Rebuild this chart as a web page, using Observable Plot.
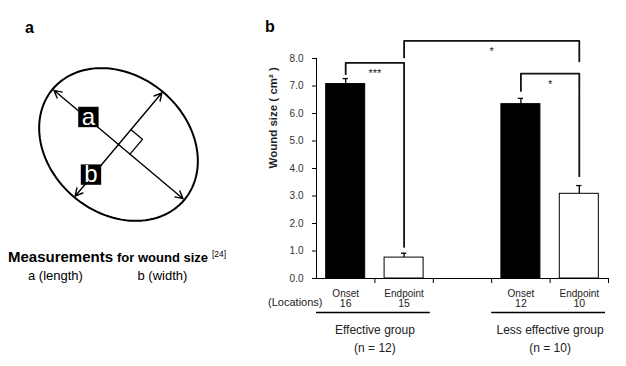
<!DOCTYPE html>
<html><head><meta charset="utf-8">
<script src="https://cdn.jsdelivr.net/npm/d3@7"></script>
<script src="https://cdn.jsdelivr.net/npm/@observablehq/plot@0.6"></script>
<style>
body{margin:0;background:#fff;}
#wrap{position:relative;width:626px;height:366px;overflow:hidden;font-family:"Liberation Sans",Arial,sans-serif;}
#pa,#pb{position:absolute;top:0;}
.t{position:absolute;white-space:nowrap;color:#000;line-height:1;}
</style></head><body>
<div id="wrap">
  <div id="pa" style="left:0"></div>
  <div id="pb" style="left:260px"></div>
  <div class="t" style="left:25px;top:20px;font-weight:bold;font-size:16px">a</div>
  <div class="t" style="left:265px;top:19px;font-weight:bold;font-size:16px">b</div>
  <div class="t" style="left:8px;top:249px;font-weight:bold;font-size:15px">Measurements</div>
  <div class="t" style="left:117px;top:250.7px;font-weight:bold;font-size:13px">for wound size</div>
  <div class="t" style="left:212px;top:250px;font-size:8.5px">[24]</div>
  <div class="t" style="left:28px;top:269px;font-size:13px">a (length)</div>
  <div class="t" style="left:137.5px;top:269px;font-size:13px">b (width)</div>
</div>
<script>
// ---------- Panel b data ----------
const groups = ["Effective group", "Less effective group"];
const groupN = [12, 10];
const phases = ["Onset", "Endpoint"];
const barGroupIndex = [0, 0, 1, 1];
const barPhaseIndex = [0, 1, 0, 1];
const meanSize = [7.07, 0.76, 6.34, 3.08];
const semSize = [0.20, 0.16, 0.21, 0.30];
const locations = [16, 15, 12, 10];
const yTicks = [0, 1, 2, 3, 4, 5, 6, 7, 8];

// significance brackets (bar indices and heights in cm²)
const bracketLeftBar = [0, 1, 2];
const bracketRightBar = [1, 3, 3];
const bracketLeftY = [7.43, 8.04, 6.82];
const bracketTopY = [7.84, 8.64, 7.45];
const bracketRightY = [1.15, 7.90, 3.72];
const bracketLabel = ["***", "*", "*"];

// ---------- Panel a geometry (diagram units) ----------
const semiMajor = 1.0;
const semiMinor = 0.8;
const tiltDeg = -40;
const arrowMajor = 0.98;
const arrowMinor = 0.785;
const rightAngleMajor = 0.175;
const rightAngleMinor = 0.225;
const axisLabels = ["a", "b"];
const axisLabelX = [-0.35, -0.32];
const axisLabelY = [0.32, -0.35];

// ---------- build panel b ----------
const slotsPerGroup = 3;
const bars = meanSize.map((m, i) => ({
  pos: barGroupIndex[i] * slotsPerGroup + barPhaseIndex[i] + 0.5,
  phase: phases[barPhaseIndex[i]],
  mean: m, sem: semSize[i], loc: locations[i]
}));
const brackets = bracketLabel.map((lab, i) => ({
  id: i, label: lab,
  x1: bars[bracketLeftBar[i]].pos, x2: bars[bracketRightBar[i]].pos,
  yl: bracketLeftY[i], yt: bracketTopY[i], yr: bracketRightY[i]
}));
const bracketPts = brackets.flatMap(b => [
  {id: b.id, x: b.x1, y: b.yl}, {id: b.id, x: b.x1, y: b.yt},
  {id: b.id, x: b.x2, y: b.yt}, {id: b.id, x: b.x2, y: b.yr}
]);
const groupRows = groups.map((g, i) => ({
  name: g, n: `(n = ${groupN[i]})`,
  start: i * slotsPerGroup, end: i * slotsPerGroup + 2, mid: i * slotsPerGroup + 1
}));
const halfBar = 0.334, halfCap = 0.045;

const pb = Plot.plot({
  width: 366, height: 366,
  marginLeft: 56, marginRight: 18, marginTop: 58, marginBottom: 88,
  x: {type: "linear", domain: [0, 5], axis: null},
  y: {domain: [0, 8], axis: null},
  style: {fontFamily: "'Liberation Sans', Arial, sans-serif", background: "transparent", overflow: "visible"},
  marks: [
    Plot.rectY(bars, {x1: d => d.pos - halfBar, x2: d => d.pos + halfBar, y1: 0, y2: "mean",
      fill: d => d.phase === "Onset" ? "black" : "white", stroke: "black", strokeWidth: 1}),
    Plot.ruleX(bars, {x: "pos", y1: "mean", y2: d => d.mean + d.sem, stroke: "black", strokeWidth: 1.3}),
    Plot.ruleY(bars, {y: d => d.mean + d.sem, x1: d => d.pos - halfCap, x2: d => d.pos + halfCap, stroke: "black", strokeWidth: 1.3}),
    Plot.ruleY([0], {x1: 0, x2: 5, stroke: "black", strokeWidth: 1}),
    Plot.ruleX([0], {y1: 0, y2: 8, stroke: "black", strokeWidth: 1}),
    Plot.axisY({ticks: yTicks, tickFormat: d => d.toFixed(1), tickSize: 4, tickPadding: 9,
      fontSize: 10, fill: "#333", stroke: "black", label: null}),
    Plot.axisX({ticks: [1, 2, 3, 4, 5], tickSize: 5, tickFormat: () => "", label: null, stroke: "black"}),
    Plot.line(bracketPts, {x: "x", y: "y", z: "id", stroke: "#111", strokeWidth: 1.8}),
    Plot.text(brackets, {x: d => (d.x1 + d.x2) / 2, y: "yt", text: "label", dy: 11, fontSize: 11, fill: "#222"}),
    Plot.text(bars, {x: "pos", y: 0, text: "phase", dy: 15, fontSize: 10, fill: "#222"}),
    Plot.text(bars, {x: "pos", y: 0, text: d => String(d.loc), dy: 25.5, fontSize: 10.5, fill: "#222"}),
    Plot.text(["(Locations)"], {x: 0, y: 0, text: d => d, dx: 6, dy: 24, textAnchor: "end", fontSize: 11, fill: "#222"}),
    Plot.ruleY(groupRows, {y: 0, x1: "start", x2: "end", dy: 34, insetRight: 3, stroke: "black", strokeWidth: 1.3}),
    Plot.text(groupRows, {x: "mid", y: 0, text: "name", dy: 52, fontSize: 12, fill: "#222"}),
    Plot.text(groupRows, {x: "mid", y: 0, text: "n", dy: 70, fontSize: 12, fill: "#222"}),
    Plot.text(["Wound size ( cm² )"], {frameAnchor: "left", text: d => d, rotate: -90, dx: -43,
      fontWeight: "bold", fontSize: 11.5, fill: "#222"})
  ]
});
document.getElementById("pb").appendChild(pb);

// ---------- build panel a ----------
const U = 86; // px per diagram unit
const cx = 118, cy = 144;
const rad = Math.PI / 180;
const uMaj = [Math.cos(tiltDeg * rad), Math.sin(tiltDeg * rad)];
const uMin = [Math.cos((tiltDeg + 90) * rad), Math.sin((tiltDeg + 90) * rad)];
const ellipsePts = d3.range(0, 361, 3).map(t => {
  const c = Math.cos(t * rad) * semiMajor, s = Math.sin(t * rad) * semiMinor;
  return {x: c * uMaj[0] + s * uMin[0], y: c * uMaj[1] + s * uMin[1]};
});
const arrows = [
  [uMaj, arrowMajor], [uMaj, -arrowMajor], [uMin, arrowMinor], [uMin, -arrowMinor]
].map(([u, l]) => ({x2: u[0] * l, y2: u[1] * l}));
const rightAngle = [
  {x: uMaj[0] * rightAngleMajor, y: uMaj[1] * rightAngleMajor},
  {x: uMaj[0] * rightAngleMajor + uMin[0] * rightAngleMinor, y: uMaj[1] * rightAngleMajor + uMin[1] * rightAngleMinor},
  {x: uMin[0] * rightAngleMinor, y: uMin[1] * rightAngleMinor}
];
const labels = axisLabels.map((t, i) => ({t, x: axisLabelX[i], y: axisLabelY[i]}));

const pa = Plot.plot({
  width: 260, height: 366, margin: 0,
  x: {domain: [-cx / U, (260 - cx) / U], axis: null},
  y: {domain: [-(366 - cy) / U, cy / U], axis: null},
  style: {fontFamily: "'Liberation Sans', Arial, sans-serif", background: "transparent", overflow: "visible"},
  marks: [
    Plot.line(ellipsePts, {x: "x", y: "y", curve: "linear-closed", stroke: "black", strokeWidth: 2}),
    Plot.arrow(arrows, {x1: 0, y1: 0, x2: "x2", y2: "y2", stroke: "black", strokeWidth: 1.4, headLength: 9, headAngle: 55}),
    Plot.line(rightAngle, {x: "x", y: "y", stroke: "black", strokeWidth: 1.3}),
    Plot.dot(labels, {x: "x", y: "y", symbol: "square", r: 11.5, fill: "black", stroke: "none"}),
    Plot.text(labels, {x: "x", y: "y", text: "t", fill: "white", fontSize: 24})
  ]
});
document.getElementById("pa").appendChild(pa);
</script>
</body></html>
